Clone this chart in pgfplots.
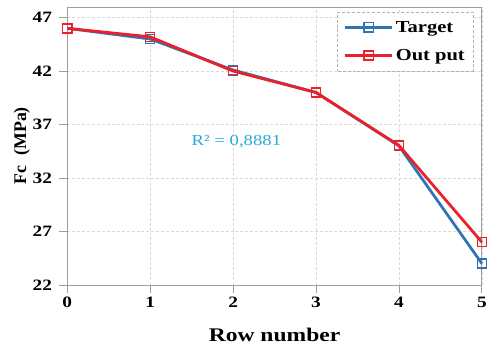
\documentclass[border=0pt]{standalone}
\usepackage{fontspec}
\setmainfont[FakeStretch=1.22]{Liberation Serif}
\newfontfamily\plainserif{Liberation Serif}
\usepackage{pgfplots}
\pgfplotsset{compat=1.18}
\definecolor{tblue}{RGB}{46,117,182}
\definecolor{tred}{RGB}{235,32,40}
\definecolor{rcol}{RGB}{40,170,220}
\begin{document}
\begin{tikzpicture}
\begin{axis}[
  scale only axis, width=419pt, height=281pt,
  xmin=0, xmax=5, ymin=22, ymax=48,
  xtick={0,1,2,3,4,5}, ytick={22,27,32,37,42,47},
  grid=major, grid style={densely dashed, gray!30, line width=0.6pt},
  axis line style={gray!75, line width=0.8pt},
  tick style={gray!75, line width=0.8pt},
  tick align=outside, major tick length=8pt,
  xtick pos=bottom, ytick pos=left,
  clip=false,
  /pgf/number format/assume math mode=true,
  ticklabel style={font=\fontsize{16}{18}\selectfont\bfseries},
  yticklabel style={xshift=-4pt},
  xticklabel style={yshift=-1pt},
  xlabel={Row number}, ylabel={Fc\,\, (MPa)},
  xlabel style={font=\fontsize{19.5}{21}\selectfont\bfseries,
    at={(axis description cs:0.5,-0.178)}, anchor=center},
  ylabel style={font=\plainserif\fontsize{18}{21}\selectfont\bfseries,
    at={(axis description cs:-0.1098,0.5)}, anchor=center},
  legend style={at={(0.9785,0.982)}, anchor=north east, draw=gray!60, densely dashed,
    fill=white, font=\fontsize{17}{19}\selectfont\bfseries, row sep=12pt,
    inner xsep=6pt, inner ysep=7pt, cells={anchor=west}},
  legend image code/.code={%
    \draw[mark repeat=2,mark phase=2,solid] plot coordinates {(0pt,0pt) (24pt,0pt) (48pt,0pt)};},
]
\coordinate (sw) at (rel axis cs:0,0);
\coordinate (ne) at (rel axis cs:1,1);
\addplot[tblue, line width=2.8pt, mark=square, mark size=4.6pt,
  mark options={fill=white, line width=1.5pt, solid}] coordinates {
  (0,46.0) (1,45.0) (2,42.1) (3,40.0) (4,35.0) (5,24.0)};
\addlegendentry{Target}
\addplot[tred, line width=2.8pt, mark=square, mark size=4.6pt,
  mark options={fill=white, line width=1.5pt, solid}] coordinates {
  (0,46.0) (1,45.2) (2,42.0) (3,40.0) (4,35.05) (5,26.0)};
\addlegendentry{Out put}
\node[text=rcol, font=\fontsize{15.5}{18}\selectfont] at (axis cs:2.04,35.4) {R² = 0,8881};
\end{axis}
\path (sw) ++(-68pt,-65pt);
\path (ne) ++(3pt,7pt);
\end{tikzpicture}
\end{document}
